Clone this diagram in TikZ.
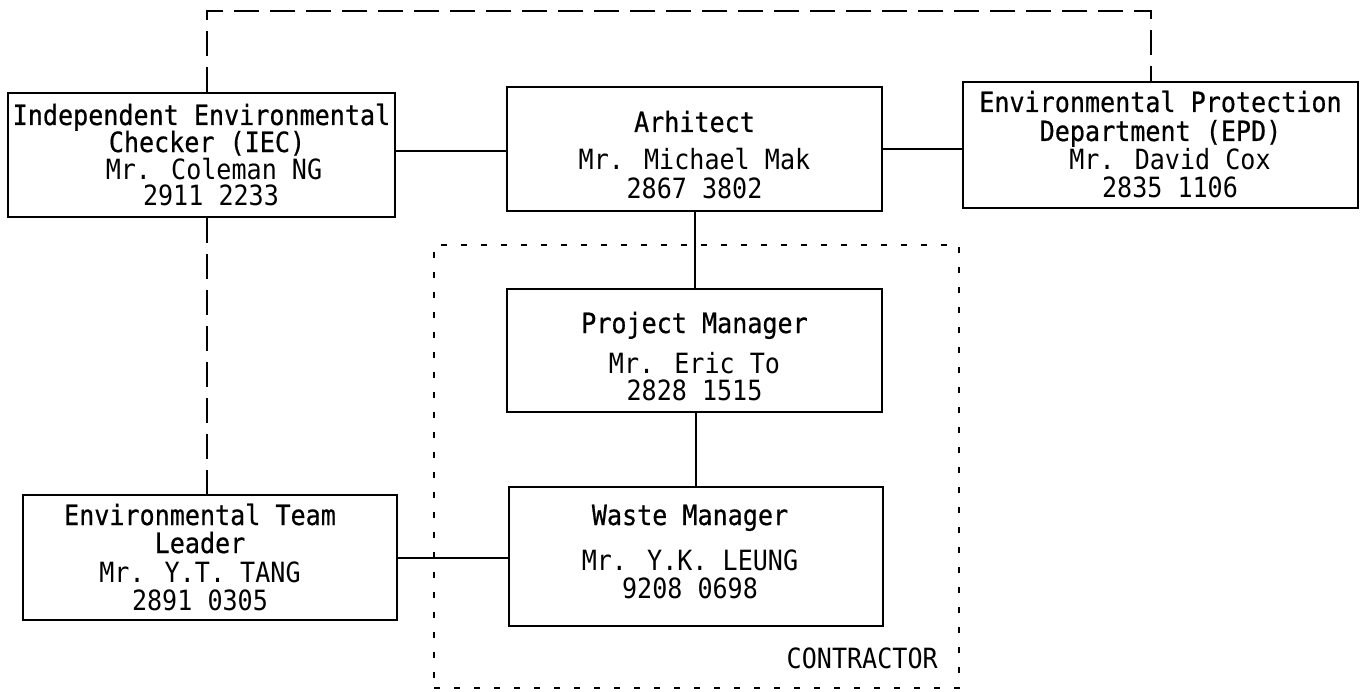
\documentclass[tikz,border=0pt]{standalone}
\usepackage{fontspec}
\newfontfamily\bodyfont[FakeStretch=0.9]{DejaVu Sans Mono}
\newfontfamily\titlefont[FakeStretch=0.9,FakeBold=0.6]{DejaVu Sans Mono}
\begin{document}
\begin{tikzpicture}[x=0.75pt,y=-0.75pt,
  box/.style={draw,line width=1.5pt,rectangle,inner sep=0pt},
  conn/.style={line width=1.5pt},
  dashline/.style={line width=1.4pt,dash pattern=on 19pt off 8pt},
  dotline/.style={line width=1.5pt,dash pattern=on 4.5pt off 10.5pt},
  txt/.style={anchor=base,inner sep=0pt,font=\bodyfont\fontsize{20.9}{22}\selectfont},
  ttl/.style={anchor=base,inner sep=0pt,font=\titlefont\fontsize{20.9}{22}\selectfont}]
\useasboundingbox (0,0) rectangle (1365,692);
\fill[white] (0,0) rectangle (1365,692);

% contractor region
\node[dotline,draw,rectangle,minimum width=525*0.75pt,minimum height=443*0.75pt,inner sep=0pt] (contr) at (696.5,466.5) {};
\node[txt,anchor=base east] (contrlbl) at (938,668) {CONTRACTOR};

% boxes
\node[box,minimum width=387*0.75pt,minimum height=124*0.75pt] (iec) at (201.5,155) {};
\node[box,minimum width=375*0.75pt,minimum height=124*0.75pt] (arch) at (694.5,149) {};
\node[box,minimum width=395*0.75pt,minimum height=126*0.75pt] (epd) at (1160.5,145) {};
\node[box,minimum width=375*0.75pt,minimum height=123*0.75pt] (pm) at (694.5,350.5) {};
\node[box,minimum width=374*0.75pt,minimum height=139*0.75pt] (wm) at (696,556.5) {};
\node[box,minimum width=374*0.75pt,minimum height=125*0.75pt] (etl) at (210,557.5) {};

% texts
\node[ttl] (iec1) at (201.5,125) {Independent Environmental};
\node[ttl] (iec2) at (207,152) {Checker (IEC)};
\node[txt] (iec3) at (214,180) {Mr. Coleman NG};
\node[txt] (iec4) at (211,205) {2911 2233};

\node[ttl] (arch1) at (694.5,132) {Arhitect};
\node[txt] (arch2) at (694.5,170) {Mr. Michael Mak};
\node[txt] (arch3) at (694.5,198) {2867 3802};

\node[ttl] (epd1) at (1160.5,112) {Environmental Protection};
\node[ttl] (epd2) at (1160.5,141) {Department (EPD)};
\node[txt] (epd3) at (1170,170) {Mr. David Cox};
\node[txt] (epd4) at (1170,197) {2835 1106};

\node[ttl] (pm1) at (694.5,333) {Project Manager};
\node[txt] (pm2) at (694.5,373) {Mr. Eric To};
\node[txt] (pm3) at (694.5,400) {2828 1515};

\node[ttl] (wm1) at (690,525) {Waste Manager};
\node[txt] (wm2) at (690,570) {Mr. Y.K. LEUNG};
\node[txt] (wm3) at (690,598) {9208 0698};

\node[ttl] (etl1) at (200,525) {Environmental Team};
\node[ttl] (etl2) at (200,553) {Leader};
\node[txt] (etl3) at (200,582) {Mr. Y.T. TANG};
\node[txt] (etl4) at (200,610) {2891 0305};

% solid connectors
\draw[conn] ([yshift=-2*0.75pt]arch.west) -- ([yshift=-2*0.75pt]arch.west -| iec.east);
\draw[conn] (arch.east) -- (arch.east -| epd.west);
\draw[conn] (arch.south) -- (arch.south |- pm.north);
\draw[conn] ([xshift=1.5*0.75pt]pm.south) -- ([xshift=1.5*0.75pt]pm.south |- wm.north);
\draw[conn] (etl.east) -- (etl.east -| wm.west);

% dashed connectors
\coordinate (tl) at (207,11);
\coordinate (tr) at (1151,11);
\draw[dashline] (iec.north -| tl) -- (tl) -- (tr) -- (tr |- epd.north);
\draw[dashline] (iec.south -| tl) -- (tl |- etl.north);
\end{tikzpicture}
\end{document}
